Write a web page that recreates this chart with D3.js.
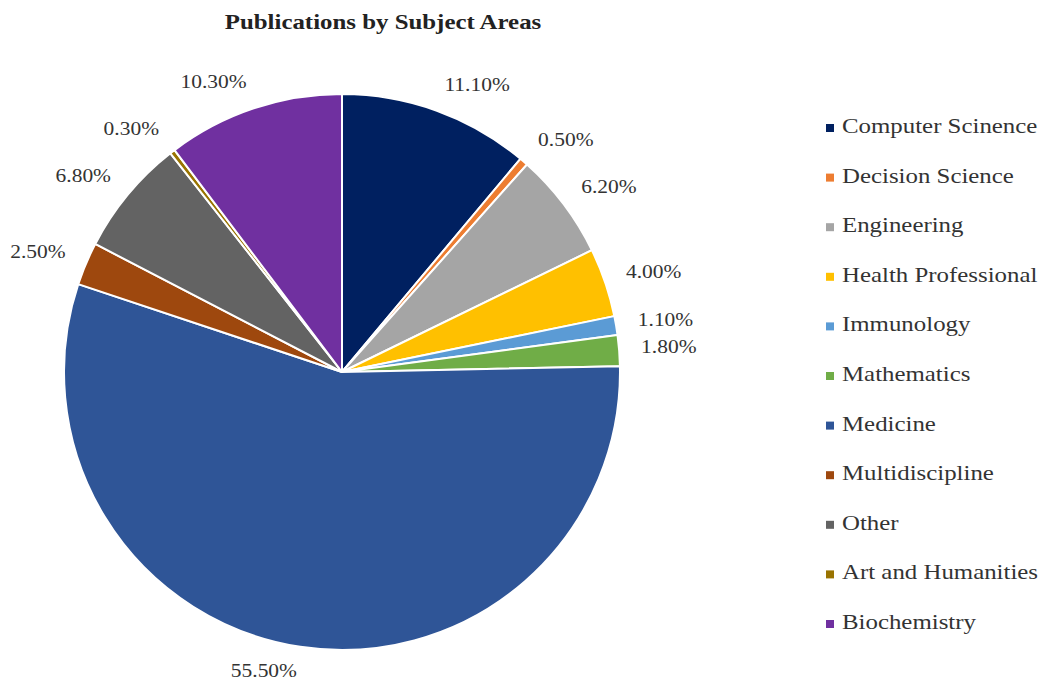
<!DOCTYPE html>
<html>
<head>
<meta charset="utf-8">
<script src="https://cdn.jsdelivr.net/npm/d3@7"></script>
<style>
  body { margin: 0; background: #fff; }
  text { font-family: "Liberation Serif", "Times New Roman", serif; fill: #333; }
</style>
</head>
<body>
<svg id="chart" width="1043" height="688"></svg>
<script>
// subject areas, clockwise from 12 o'clock
const subjects = ["Computer Scinence", "Decision Science", "Engineering", "Health Professional",
  "Immunology", "Mathematics", "Medicine", "Multidiscipline", "Other", "Art and Humanities", "Biochemistry"];
const shares = [11.1, 0.5, 6.2, 4.0, 1.1, 1.8, 55.5, 2.5, 6.8, 0.3, 10.3];
const sliceColors = ["#002060", "#ED7D31", "#A5A5A5", "#FFC000", "#5B9BD5", "#70AD47",
  "#2F5597", "#9E480E", "#636363", "#997300", "#7030A0"];

const svg = d3.select("#chart");
const cx = 342, cy = 372, radius = 278;
const stretch = 1.13; // text in the picture is a bit wide

const color = d3.scaleOrdinal().domain(subjects).range(sliceColors);
const data = subjects.map((s, i) => ({ name: s, value: shares[i] }));

// title
svg.append("text")
  .attr("transform", `translate(383,29) scale(${stretch},1)`)
  .attr("text-anchor", "middle")
  .style("font-size", "22px")
  .style("font-weight", "bold")
  .style("fill", "#222")
  .text("Publications by Subject Areas");

const pie = d3.pie().value(d => d.value).sort(null);
const arc = d3.arc().innerRadius(0).outerRadius(radius);
const arcs = pie(data);

const g = svg.append("g").attr("transform", `translate(${cx},${cy})`);

g.selectAll("path.slice").data(arcs)
  .join("path")
  .attr("class", "slice")
  .attr("d", arc)
  .attr("fill", d => color(d.data.name))
  .attr("stroke", "#fff")
  .attr("stroke-width", 2)
  .attr("stroke-linejoin", "round");

// labels outside the pie
const labelR = 300;
g.selectAll("text.lbl").data(arcs)
  .join("text")
  .attr("class", "lbl")
  .each(function (d) {
    const a = (d.startAngle + d.endAngle) / 2;
    const s = Math.sin(a), c = Math.cos(a);
    d3.select(this)
      .attr("transform", `translate(${labelR * s},${-labelR * c - 4 * c}) scale(${stretch},1)`)
      .attr("text-anchor", s > 0.1 ? "start" : (s < -0.1 ? "end" : "middle"))
      .attr("dominant-baseline", "middle");
  })
  .style("font-size", "19px")
  .text(d => d.data.value.toFixed(2) + "%");

// legend
const legend = svg.append("g").attr("transform", "translate(826,128)");
const rowGap = 49.6;
const rows = legend.selectAll("g").data(subjects)
  .join("g")
  .attr("transform", (d, i) => `translate(0,${i * rowGap})`);
rows.append("rect")
  .attr("x", 0).attr("y", -4)
  .attr("width", 8).attr("height", 8)
  .attr("fill", d => color(d));
rows.append("text")
  .attr("transform", `translate(16,0) scale(${stretch},1)`)
  .attr("dominant-baseline", "middle")
  .style("font-size", "22px")
  .text(d => d);
</script>
</body>
</html>
